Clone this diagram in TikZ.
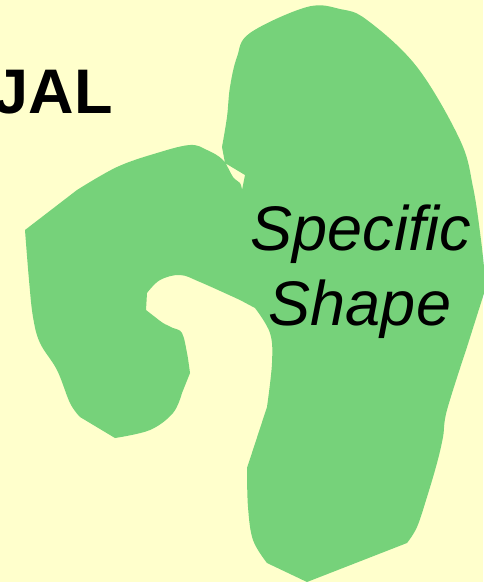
\documentclass[tikz,border=0pt]{standalone}
\usepackage{fontspec}
\setmainfont{Liberation Sans}
\usepackage{tikz}

\definecolor{paleyellow}{HTML}{FFFFCC}
\definecolor{leafgreen}{HTML}{76D27A}

\begin{document}
\begin{tikzpicture}[x=1pt, y=-1pt,
  bigtext/.style={inner sep=0pt, font=\fontsize{63}{75}\selectfont}]
  % Background
  \fill[paleyellow] (0,0) rectangle (483,582);
  \useasboundingbox (0,0) rectangle (483,582);

  % Green blob
  \fill[leafgreen]
    plot[smooth, tension=0.6] coordinates {(222,147) (227,117) (230,87) (237,57) (250,33) (307,7) (340,9) (367,20) (417,67) (460,140) (473,187) (481,240) (486,287)}
    -- plot[smooth, tension=0.6] coordinates {(467,347) (447,410) (443,437) (437,463) (427,497) (417,527) (407,543)}
    -- (307,582)
    -- plot[smooth, tension=0.6] coordinates {(267,563) (253,540) (248,507) (247,468)}
    -- plot[smooth, tension=0.6] coordinates {(267,407) (272,363) (270,333) (255,308)}
    -- plot[smooth, tension=0.6] coordinates {(240,300) (200,282) (180,275) (160,280) (147,293)}
    -- plot[smooth, tension=0.6] coordinates {(146,310) (155,317) (163,323) (173,328) (182,333) (187,353) (190,373)}
    -- plot[smooth, tension=0.6] coordinates {(182,393) (173,413) (150,430) (115,438)}
    -- plot[smooth, tension=0.6] coordinates {(80,417) (70,403) (57,370) (40,343) (33,317) (29,280) (25,230)}
    -- plot[smooth, tension=0.6] coordinates {(77,190) (117,167) (157,153) (190,145) (207,150) (223,160) (233,177) (240,183) (242,190)}
    -- (245,175) -- (225,163) -- cycle;

  % Texts
  \node[bigtext, font=\fontsize{63}{75}\selectfont\bfseries, anchor=base east] (heading) at (113,113) {JAL};
  \node[bigtext, font=\fontsize{63}{75}\selectfont\itshape, anchor=base] (specific) at (361,250) {Specific};
  \node[bigtext, font=\fontsize{63}{75}\selectfont\itshape, anchor=base] (shape) at (360,325) {Shape};
\end{tikzpicture}
\end{document}
